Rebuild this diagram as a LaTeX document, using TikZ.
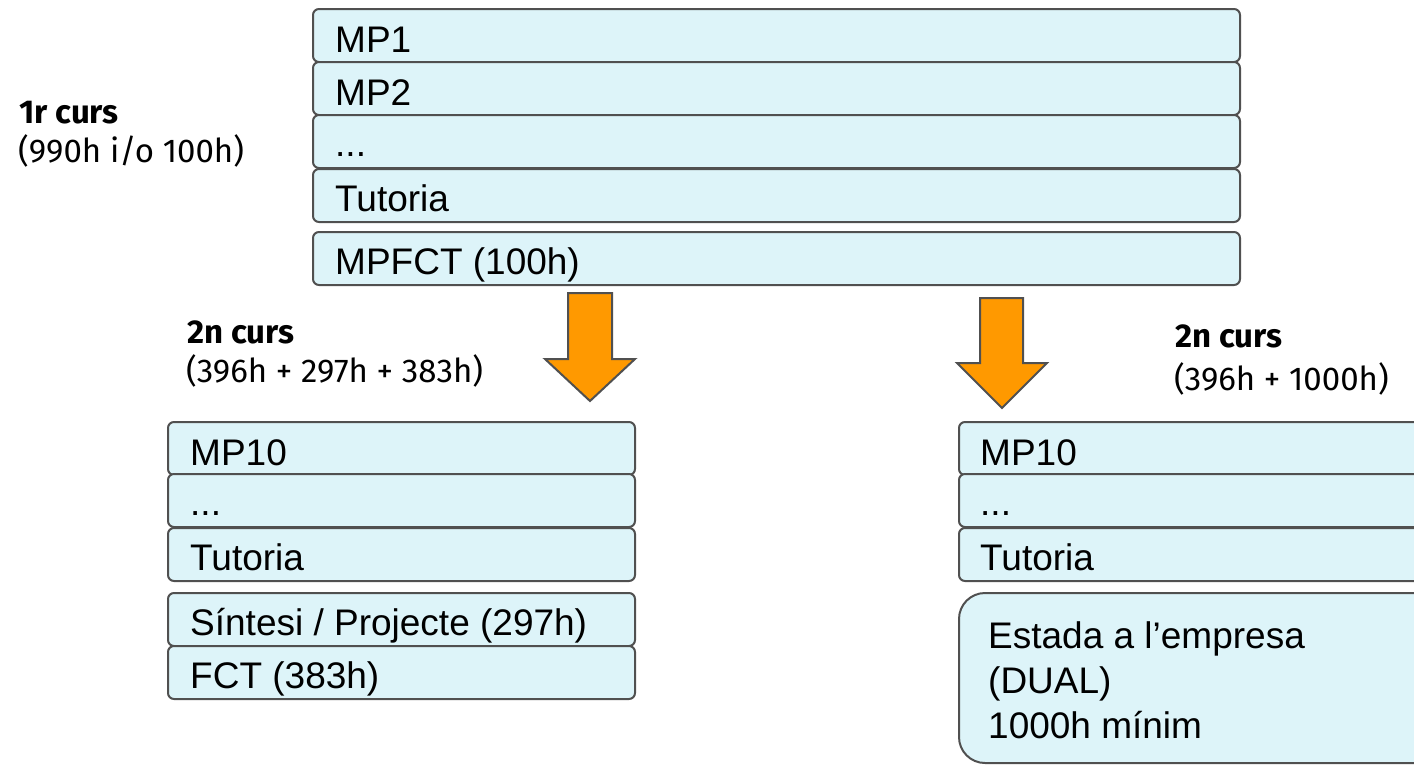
\documentclass[tikz,border=0pt]{standalone}
\usepackage{fontspec}
\setmainfont{Liberation Sans}
\newfontfamily\labelfont{Fira Sans}
\definecolor{boxfill}{HTML}{DDF4F9}
\definecolor{boxline}{HTML}{505050}
\definecolor{arrowfill}{HTML}{FF9900}
\begin{document}
\begin{tikzpicture}[x=1pt,y=-1pt,
  box/.style={draw=boxline, fill=boxfill, line width=2pt, rounded corners=6pt,
    anchor=north west, inner sep=0pt, minimum height=53pt},
  bigbox/.style={box, rounded corners=26pt},
  boxtext/.style={anchor=base west, inner sep=0pt, font=\fontsize{37}{44}\selectfont},
  headtext/.style={anchor=base west, inner sep=0pt, font=\labelfont\bfseries\fontsize{33}{40}\selectfont},
  subtext/.style={anchor=base west, inner sep=0pt, font=\labelfont\fontsize{33}{40}\selectfont},
  blockarrow/.style={draw=boxline, fill=arrowfill, line width=2pt, line join=miter}
]
\useasboundingbox (0,0) rectangle (1414,764);
\clip (0,0) rectangle (1414,764);

% first year
\node[box, minimum width=927pt] (mp1) at (312,8) {};
\node[box, minimum width=927pt] (mp2) at (312,61) {};
\node[box, minimum width=927pt] (dots1) at (312,114) {};
\node[box, minimum width=927pt] (tut1) at (312,168) {};
\node[box, minimum width=927pt] (mpfct) at (312,231) {};
\node[boxtext] (mp1t) at ([xshift=23pt,yshift=11pt]mp1.south west) {MP1};
\node[boxtext] (mp2t) at ([xshift=23pt,yshift=11pt]mp2.south west) {MP2};
\node[boxtext] (dots1t) at ([xshift=23pt,yshift=13pt]dots1.south west) {...};
\node[boxtext] (tut1t) at ([xshift=23pt,yshift=12pt]tut1.south west) {Tutoria};
\node[boxtext] (mpfctt) at ([xshift=23pt,yshift=12pt]mpfct.south west) {MPFCT (100h)};

\node[headtext] (h1) at (19,123) {1r curs};
\node[subtext] (s1) at (18,162) {(990h i/o 100h)};

% arrows
\draw[blockarrow] (568,293) -- (612,293) -- (612,359) -- (635,359) -- (590,401)
  -- (545,359) -- (568,359) -- cycle;
\draw[blockarrow] (980,298) -- (1023,298) -- (1023,363) -- (1047,363) -- (1002,408)
  -- (957,363) -- (980,363) -- cycle;

% second year, left
\node[headtext] (h2l) at (187,343) {2n curs};
\node[subtext] (s2l) at (186,382) {(396h + 297h + 383h)};
\node[box, minimum width=467pt] (mp10l) at (167,421) {};
\node[box, minimum width=467pt] (dots2l) at (167,473) {};
\node[box, minimum width=467pt] (tut2l) at (167,527) {};
\node[box, minimum width=467pt] (sint) at (167,592) {};
\node[box, minimum width=467pt] (fct) at (167,645) {};
\node[boxtext] (mp10lt) at ([xshift=23pt,yshift=11pt]mp10l.south west) {MP10};
\node[boxtext] (dots2lt) at ([xshift=23pt,yshift=13pt]dots2l.south west) {...};
\node[boxtext] (tut2lt) at ([xshift=23pt,yshift=12pt]tut2l.south west) {Tutoria};
\node[boxtext] (sintt) at ([xshift=23pt,yshift=12pt]sint.south west) {Síntesi / Projecte (297h)};
\node[boxtext] (fctt) at ([xshift=23pt,yshift=12pt]fct.south west) {FCT (383h)};

% second year, right
\node[headtext] (h2r) at (1175,347) {2n curs};
\node[subtext] (s2r) at (1174,390) {(396h + 1000h)};
\node[box, minimum width=482pt] (mp10r) at (958,421) {};
\node[box, minimum width=482pt] (dots2r) at (958,473) {};
\node[box, minimum width=482pt] (tut2r) at (958,527) {};
\node[bigbox, minimum width=482pt, minimum height=170pt] (estada) at (958,592) {};
\node[boxtext] (mp10rt) at ([xshift=22pt,yshift=11pt]mp10r.south west) {MP10};
\node[boxtext] (dots2rt) at ([xshift=22pt,yshift=13pt]dots2r.south west) {...};
\node[boxtext] (tut2rt) at ([xshift=22pt,yshift=12pt]tut2r.south west) {Tutoria};
\node[boxtext] (est1) at (988,648) {Estada a l’empresa};
\node[boxtext] (est2) at (988,693) {(DUAL)};
\node[boxtext] (est3) at (988,738) {1000h mínim};
\end{tikzpicture}
\end{document}
